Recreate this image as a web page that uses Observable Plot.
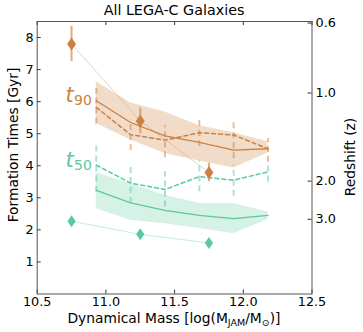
<!DOCTYPE html>
<html><head><meta charset="utf-8">
<script src="https://cdn.jsdelivr.net/npm/d3@7"></script>
<script src="https://cdn.jsdelivr.net/npm/@observablehq/plot@0.6"></script>
<style>body{margin:0;background:#fff}svg{display:block}</style>
</head><body><div id="c"></div>
<script>
// ---- data ----
const massBins   = [10.93, 11.18, 11.43, 11.68, 11.93, 12.18];
const t90Med     = [6.03, 5.35, 4.93, 4.73, 4.49, 4.53];
const t90Lo      = [5.32, 4.80, 4.38, 4.15, 3.93, 4.40];
const t90Hi      = [6.62, 5.96, 5.68, 5.25, 5.03, 4.75];
const t90Dash    = [5.82, 4.97, 4.80, 5.03, 4.96, 4.53];
const t90DashLo  = [5.30, 4.48, 4.25, 4.60, 4.22, 4.10];
const t90DashHi  = [6.41, 5.42, 5.25, 5.50, 5.37, 4.85];
const t50Med     = [3.23, 2.84, 2.61, 2.45, 2.35, 2.45];
const t50Lo      = [2.66, 2.30, 2.19, 2.04, 1.88, 2.32];
const t50Hi      = [3.78, 3.44, 3.08, 2.82, 2.82, 2.56];
const t50Dash    = [4.02, 3.46, 3.26, 3.66, 3.55, 3.81];
const t50DashLo  = [3.18, 2.82, 2.71, 3.18, 3.05, 3.49];
const t50DashHi  = [4.64, 4.07, 3.81, 4.17, 4.02, 4.12];

const massD   = [10.75, 11.25, 11.75];
const t90D    = [7.80, 5.40, 3.79];
const t90DErr = [0.55, 0.40, 0.29];
const t50D    = [2.27, 1.86, 1.59];

const xTicks = [10.5, 11.0, 11.5, 12.0, 12.5];
const yTicks = [1, 2, 3, 4, 5, 6, 7, 8];
const zTickGyr   = [8.45, 6.27, 3.52, 2.33];
const zTickLabel = ["0.6", "1.0", "2.0", "3.0"];

const seriesLabels = [
  {name: "90", x: 10.706, y: 5.98, color: "orange"},
  {name: "50", x: 10.706, y: 3.96, color: "green"}
];

// ---- build ----
const ORANGE = "#cd8040", GREEN = "#5cc99d";
const bins = massBins.map((m, i) => ({
  m, t90Med: t90Med[i], t90Lo: t90Lo[i], t90Hi: t90Hi[i], t90Dash: t90Dash[i],
  t90DashLo: t90DashLo[i], t90DashHi: t90DashHi[i],
  t50Med: t50Med[i], t50Lo: t50Lo[i], t50Hi: t50Hi[i], t50Dash: t50Dash[i],
  t50DashLo: t50DashLo[i], t50DashHi: t50DashHi[i]
}));
const dia = massD.map((m, i) => ({m, t90: t90D[i], e90: t90DErr[i], t50: t50D[i]}));
const zMap = new Map(zTickGyr.map((g, i) => [g, zTickLabel[i]]));

const thinDiamond = {
  draw(ctx, size) {
    const r = Math.sqrt(size / Math.PI);
    ctx.moveTo(0, -1.25 * r);
    ctx.lineTo(0.85 * r, 0);
    ctx.lineTo(0, 1.25 * r);
    ctx.lineTo(-0.85 * r, 0);
    ctx.closePath();
  }
};

const W = 363, H = 332, mL = 36.7, mR = 51.5, mT = 21, mB = 38.5;
const fW = W - mL - mR, fH = H - mT - mB;
const FONT = "DejaVu Sans";
const colorOf = d => d.color === "orange" ? ORANGE : GREEN;

const svg = Plot.plot({
  width: W, height: H,
  marginLeft: mL, marginRight: mR, marginTop: mT, marginBottom: mB,
  style: {fontFamily: FONT, fontSize: "13px", color: "#000", background: "#fff"},
  x: {domain: [10.5, 12.5]},
  y: {domain: [0, 8.5]},
  marks: [
    Plot.areaY(bins, {x: "m", y1: "t90Lo", y2: "t90Hi", fill: ORANGE, fillOpacity: 0.28}),
    Plot.areaY(bins, {x: "m", y1: "t50Lo", y2: "t50Hi", fill: GREEN, fillOpacity: 0.25}),
    Plot.ruleX(bins, {x: "m", y1: "t90DashLo", y2: "t90DashHi", stroke: ORANGE, strokeOpacity: 0.5, strokeWidth: 2, strokeDasharray: "6,4"}),
    Plot.ruleX(bins, {x: "m", y1: "t50DashLo", y2: "t50DashHi", stroke: GREEN, strokeOpacity: 0.5, strokeWidth: 2, strokeDasharray: "6,4"}),
    Plot.line(bins, {x: "m", y: "t90Med", stroke: ORANGE, strokeWidth: 1.3}),
    Plot.line(bins, {x: "m", y: "t50Med", stroke: GREEN, strokeWidth: 1.3}),
    Plot.line(bins, {x: "m", y: "t90Dash", stroke: ORANGE, strokeWidth: 1.5, strokeDasharray: "4,3"}),
    Plot.line(bins, {x: "m", y: "t50Dash", stroke: GREEN, strokeWidth: 1.5, strokeDasharray: "4,3"}),
    Plot.line(dia, {x: "m", y: "t90", stroke: ORANGE, strokeOpacity: 0.45, strokeWidth: 0.8}),
    Plot.line(dia, {x: "m", y: "t50", stroke: GREEN, strokeOpacity: 0.45, strokeWidth: 0.8}),
    Plot.ruleX(dia, {x: "m", y1: d => d.t90 - d.e90, y2: d => d.t90 + d.e90, stroke: ORANGE, strokeOpacity: 0.65, strokeWidth: 2}),
    Plot.dot(dia, {x: "m", y: "t90", symbol: thinDiamond, r: 5.2, fill: ORANGE, stroke: "none"}),
    Plot.dot(dia, {x: "m", y: "t50", symbol: thinDiamond, r: 4.8, fill: GREEN, stroke: "none"}),
    Plot.text(seriesLabels, {x: "x", y: "y", text: () => "t", fill: colorOf,
      fontSize: 21, fontStyle: "italic", textAnchor: "start", lineAnchor: "bottom", fontFamily: FONT}),
    Plot.text(seriesLabels, {x: "x", y: "y", text: "name", fill: colorOf,
      fontSize: 14, textAnchor: "start", lineAnchor: "bottom", dx: 8.5, dy: 2.5, fontFamily: FONT}),
    Plot.axisX(xTicks, {tickSize: 0, tickPadding: 3, tickFormat: d => d.toFixed(1), label: null}),
    Plot.axisY(yTicks, {tickSize: 0, tickPadding: 3.5, label: null}),
    Plot.axisY(zTickGyr, {anchor: "right", tickSize: 0, tickPadding: 3.5, tickFormat: d => zMap.get(d), label: null}),
    Plot.tickX(xTicks, {x: d => d, insetTop: fH - 4, stroke: "#333"}),
    Plot.tickX(xTicks, {x: d => d, insetBottom: fH - 4, stroke: "#333"}),
    Plot.tickY(yTicks, {y: d => d, insetRight: fW - 4, stroke: "#333"}),
    Plot.tickY(zTickGyr, {y: d => d, insetLeft: fW - 4, stroke: "#333"}),
    Plot.frame({stroke: "#555", strokeWidth: 1})
  ]
});

const s = d3.select(svg);
s.selectAll('g[aria-label$="tick label"]').attr("font-size", 12.8).style("font-size", "12.8px");
s.selectAll('g[aria-label$="tick label"] text').style("font-size", "12.8px");

s.append("text").attr("x", 174).attr("y", 15).attr("text-anchor", "middle")
  .attr("font-family", FONT).attr("font-size", 14.3).attr("fill", "#000").text("All LEGA-C Galaxies");
const xl = s.append("text").attr("x", 174).attr("y", 322.5).attr("text-anchor", "middle")
  .attr("font-family", FONT).attr("font-size", 13.8).attr("fill", "#000");
xl.append("tspan").text("Dynamical Mass [log(M");
xl.append("tspan").attr("font-size", 9.5).attr("dy", 3).text("JAM");
xl.append("tspan").attr("dy", -3).text("/M");
xl.append("tspan").attr("font-size", 9.5).attr("dy", 3).text("⊙");
xl.append("tspan").attr("dy", -3).text(")]");
s.append("text").attr("transform", "translate(18,145) rotate(-90)").attr("text-anchor", "middle")
  .attr("font-family", FONT).attr("font-size", 13.8).attr("fill", "#000").text("Formation Times [Gyr]");
s.append("text").attr("transform", "translate(355,157) rotate(-90)").attr("text-anchor", "middle")
  .attr("font-family", FONT).attr("font-size", 13.8).attr("fill", "#000").text("Redshift (z)");

document.getElementById("c").appendChild(svg);
</script>
</body></html>
